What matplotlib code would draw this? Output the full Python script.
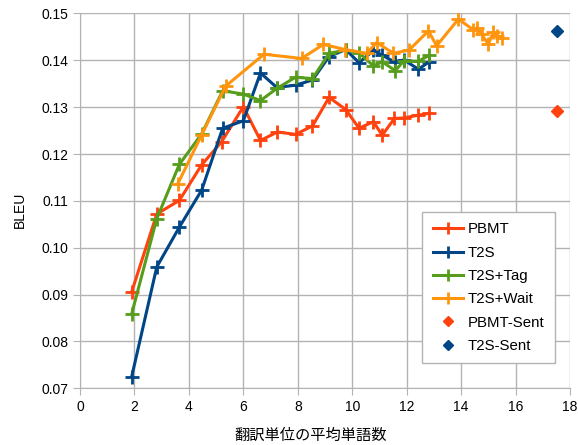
import matplotlib
matplotlib.use("Agg")
import matplotlib.pyplot as plt

plt.rcParams['font.family'] = ['Liberation Sans', 'Noto Sans CJK JP', 'DejaVu Sans']

# average words per translation unit vs BLEU
pbmt_x = [1.90, 2.82, 3.65, 4.47, 5.20, 6.00, 6.63, 7.25, 7.92, 8.54, 9.15, 9.76,
          10.25, 10.78, 11.10, 11.55, 11.89, 12.43, 12.83]
pbmt_y = [0.0906, 0.1072, 0.1101, 0.1177, 0.1226, 0.1301, 0.1229, 0.1247, 0.1242,
          0.1260, 0.1321, 0.1295, 0.1255, 0.1269, 0.1240, 0.1276, 0.1277, 0.1283, 0.1287]

t2s_x = [1.90, 2.82, 3.65, 4.47, 5.24, 6.00, 6.63, 7.23, 7.92, 8.54, 9.15, 9.76,
         10.25, 10.78, 11.10, 11.57, 11.90, 12.43, 12.83]
t2s_y = [0.0725, 0.0959, 0.1044, 0.1123, 0.1255, 0.1271, 0.1373, 0.1342, 0.1347,
         0.1358, 0.1408, 0.1423, 0.1395, 0.1421, 0.1411, 0.1396, 0.1401, 0.1381, 0.1397]

tag_x = [1.90, 2.82, 3.65, 4.47, 5.24, 6.00, 6.63, 7.23, 7.92, 8.54, 9.15, 9.76,
         10.25, 10.78, 11.10, 11.58, 11.90, 12.43, 12.83]
tag_y = [0.0859, 0.1062, 0.1178, 0.1243, 0.1335, 0.1328, 0.1314, 0.1340, 0.1364,
         0.1361, 0.1415, 0.1422, 0.1416, 0.1388, 0.1397, 0.1378, 0.1399, 0.1398, 0.1411]

wait_x = [3.59, 4.47, 5.35, 6.76, 8.14, 8.94, 9.74, 10.53, 10.90, 11.51, 12.09,
          12.80, 13.10, 13.90, 14.45, 14.60, 14.75, 15.00, 15.18, 15.33, 15.49]
wait_y = [0.1136, 0.1241, 0.1345, 0.1413, 0.1404, 0.1434, 0.1423, 0.1415, 0.1438,
          0.1415, 0.1422, 0.1463, 0.1431, 0.1488, 0.1465, 0.1470, 0.1456, 0.1434,
          0.1460, 0.1453, 0.1447]

sent_x = [17.51]
pbmt_sent_y = [0.1292]
t2s_sent_y = [0.1463]

fig = plt.figure(figsize=(5.78, 4.45), dpi=100)
ax = fig.add_axes([0.1384, 0.1274, 0.8478, 0.8423])

style = dict(marker='+', markersize=10, markeredgewidth=2, linewidth=2.2)
ax.plot(pbmt_x, pbmt_y, color='#ff420e', label='PBMT', **style)
ax.plot(t2s_x, t2s_y, color='#004586', label='T2S', **style)
ax.plot(tag_x, tag_y, color='#579d1c', label='T2S+Tag', **style)
ax.plot(wait_x, wait_y, color='#ff950e', label='T2S+Wait', **style)
ax.plot(sent_x, pbmt_sent_y, linestyle='none', marker='D', markersize=6,
        color='#ff420e', label='PBMT-Sent')
ax.plot(sent_x, t2s_sent_y, linestyle='none', marker='D', markersize=6,
        color='#004586', label='T2S-Sent')

ax.set_xlim(0, 18)
ax.set_ylim(0.07, 0.15)
ax.set_xticks(range(0, 19, 2))
ax.set_yticks([0.07 + 0.01 * i for i in range(9)])
ax.set_yticklabels(['%.2f' % (0.07 + 0.01 * i) for i in range(9)])
ax.grid(True, color='#b3b3b3', linewidth=1)
ax.set_axisbelow(True)
for s in ['top', 'right']:
    ax.spines[s].set_visible(False)
for s in ['left', 'bottom']:
    ax.spines[s].set_color('#b3b3b3')
ax.tick_params(colors='#b3b3b3', labelcolor='black', labelsize=10, length=5)

ax.set_xlabel('翻訳単位の平均単語数', fontsize=11)
ax.set_ylabel('BLEU', fontsize=10)
ax.xaxis.set_label_coords(0.471, -0.108)
ax.yaxis.set_label_coords(-0.108, 0.476)

leg = ax.legend(loc='upper left', bbox_to_anchor=(0.698, 0.4704), fontsize=10.8,
                fancybox=False, edgecolor='#b3b3b3', framealpha=1,
                labelspacing=0.62, handlelength=2.0, handletextpad=0.35,
                borderpad=0.7, borderaxespad=0, markerscale=0.8)
leg.get_frame().set_linewidth(1)

fig.savefig('out.png', dpi=100)
